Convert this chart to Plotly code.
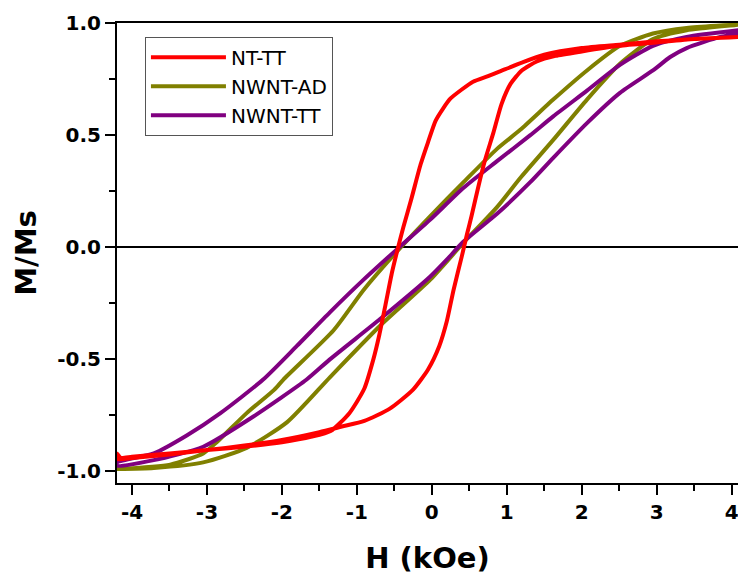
import plotly.graph_objects as go

# ---------------- data ----------------
# NT-TT (red): descending branch (from +H to -H) and ascending branch
nt_tt_h_desc = [4.1, 3.5, 3.0, 2.5, 2.0, 1.5, 1.2, 0.9, 0.75, 0.55, 0.4, 0.25, 0.15, 0.05, -0.05,
                -0.15, -0.27, -0.38, -0.45, -0.53, -0.62, -0.7, -0.78, -0.9, -1.1, -1.35, -1.6,
                -2.0, -2.5, -3.0, -3.5, -4.0, -4.15, -4.2]
nt_tt_m_desc = [0.94, 0.93, 0.92, 0.905, 0.89, 0.86, 0.825, 0.785, 0.765, 0.74, 0.705, 0.665, 0.62,
                0.565, 0.47, 0.37, 0.22, 0.09, 0.0, -0.11, -0.26, -0.39, -0.5, -0.63, -0.74, -0.82,
                -0.845, -0.87, -0.89, -0.905, -0.92, -0.935, -0.94, -0.92]
nt_tt_h_asc = [-4.2, -4.0, -3.5, -3.0, -2.5, -2.0, -1.5, -1.2, -0.9, -0.56, -0.25, -0.05, 0.1, 0.2,
               0.29, 0.4, 0.47, 0.53, 0.62, 0.71, 0.82, 0.93, 1.05, 1.2, 1.4, 1.65, 2.0, 2.5, 3.0,
               3.5, 4.1]
nt_tt_m_asc = [-0.945, -0.94, -0.925, -0.905, -0.885, -0.86, -0.825, -0.8, -0.775, -0.72, -0.635,
               -0.545, -0.44, -0.33, -0.19, -0.04, 0.06, 0.14, 0.27, 0.39, 0.51, 0.64, 0.73, 0.79,
               0.83, 0.855, 0.875, 0.9, 0.915, 0.93, 0.94]

# NWNT-AD (olive)
nwnt_ad_h_desc = [4.1, 3.4, 2.95, 2.51, 2.07, 1.62, 1.18, 0.87, 0.42, -0.02, -0.47, -0.91, -1.31,
                  -1.98, -2.1, -2.47, -2.87, -3.05, -3.49, -4.2]
nwnt_ad_m_desc = [0.995, 0.98, 0.955, 0.90, 0.79, 0.66, 0.525, 0.44, 0.29, 0.14, -0.02, -0.19, -0.37,
                  -0.59, -0.635, -0.74, -0.87, -0.92, -0.97, -0.99]
nwnt_ad_h_asc = [-4.2, -3.71, -3.05, -2.47, -1.93, -1.36, -0.69, -0.02, 0.42, 0.87, 1.18, 1.62,
                 2.07, 2.51, 2.95, 3.4, 4.1]
nwnt_ad_m_asc = [-0.99, -0.985, -0.96, -0.895, -0.78, -0.58, -0.35, -0.144, 0.02, 0.18, 0.31,
                 0.48, 0.66, 0.82, 0.93, 0.97, 0.995]

# NWNT-TT (purple)
nwnt_tt_h_desc = [4.1, 3.4, 2.95, 2.51, 2.07, 1.62, 1.31, 0.87, 0.42, -0.02, -0.47, -0.91,
                  -1.36, -1.8, -2.25, -2.82, -3.27, -3.71, -4.2]
nwnt_tt_m_desc = [0.97, 0.94, 0.90, 0.815, 0.70, 0.585, 0.50, 0.385, 0.265, 0.124, -0.01, -0.144,
                  -0.29, -0.44, -0.59, -0.74, -0.84, -0.92, -0.96]
nwnt_tt_h_asc = [-4.2, -3.71, -3.05, -2.38, -1.67, -1.36, -0.69, -0.02, 0.2, 0.42, 0.87, 1.31,
                 1.62, 2.07, 2.51, 2.95, 3.18, 3.4, 3.85, 4.1]
nwnt_tt_m_asc = [-0.975, -0.95, -0.89, -0.755, -0.59, -0.50, -0.32, -0.13, -0.055, 0.025, 0.15,
                 0.29, 0.40, 0.555, 0.69, 0.79, 0.85, 0.89, 0.94, 0.955]

x_tick_vals = [-4, -3, -2, -1, 0, 1, 2, 3, 4]
x_tick_text = ["-4", "-3", "-2", "-1", "0", "1", "2", "3", "4"]
x_minor_vals = [-3.5, -2.5, -1.5, -0.5, 0.5, 1.5, 2.5, 3.5]
y_tick_vals = [-1.0, -0.5, 0.0, 0.5, 1.0]
y_tick_text = ["-1.0", "-0.5", "0.0", "0.5", "1.0"]
y_minor_vals = [-0.75, -0.25, 0.25, 0.75]

# ---------------- figure ----------------
series = [
    ("NWNT-AD", nwnt_ad_h_desc + nwnt_ad_h_asc, nwnt_ad_m_desc + nwnt_ad_m_asc, "#808000", 2),
    ("NWNT-TT", nwnt_tt_h_desc + nwnt_tt_h_asc, nwnt_tt_m_desc + nwnt_tt_m_asc, "#800080", 3),
    ("NT-TT", nt_tt_h_desc + nt_tt_h_asc, nt_tt_m_desc + nt_tt_m_asc, "#ff0000", 1),
]

fig = go.Figure()
for name, hx, my, color, rank in series:
    fig.add_trace(go.Scatter(
        x=hx, y=my, mode="lines", name=name, legendrank=rank,
        line=dict(color=color, width=4, shape="spline", smoothing=0.6),
    ))

tick_font = dict(family="DejaVu Sans", size=20, color="black", weight="bold")
title_font = dict(family="DejaVu Sans", size=29, color="black", weight="bold")

fig.update_layout(
    width=738, height=575,
    margin=dict(l=117, r=0, t=23, b=92),
    paper_bgcolor="white", plot_bgcolor="white",
    showlegend=True,
    legend=dict(
        x=0.045, y=0.97, xanchor="left", yanchor="top",
        bordercolor="#555555", borderwidth=1, bgcolor="white",
        font=dict(family="DejaVu Sans", size=20, color="black"),
        itemwidth=75, tracegroupgap=0,
    ),
    xaxis=dict(
        range=[-4.2, 4.085],
        tickmode="array", tickvals=x_tick_vals, ticktext=x_tick_text,
        ticks="outside", ticklen=10, tickwidth=1.5, tickcolor="black",
        ticklabeloverflow="allow",
        minor=dict(tickmode="array", tickvals=x_minor_vals, ticks="outside",
                   ticklen=6, tickwidth=1.5, tickcolor="black", showgrid=False),
        showline=True, linecolor="black", linewidth=2, mirror=True,
        showgrid=False, zeroline=False,
        tickfont=tick_font,
        title=dict(text="H (kOe)", font=title_font, standoff=26),
    ),
    yaxis=dict(
        range=[-1.052, 1.002],
        tickmode="array", tickvals=y_tick_vals, ticktext=y_tick_text,
        ticks="outside", ticklen=10, tickwidth=1.5, tickcolor="black",
        minor=dict(tickmode="array", tickvals=y_minor_vals, ticks="outside",
                   ticklen=6, tickwidth=1.5, tickcolor="black", showgrid=False),
        showline=True, linecolor="black", linewidth=2, mirror=False,
        showgrid=False, zeroline=True, zerolinecolor="black", zerolinewidth=1.5,
        tickfont=tick_font,
        title=dict(text="M/Ms", font=title_font, standoff=12),
    ),
)

fig.write_html("out.html")
